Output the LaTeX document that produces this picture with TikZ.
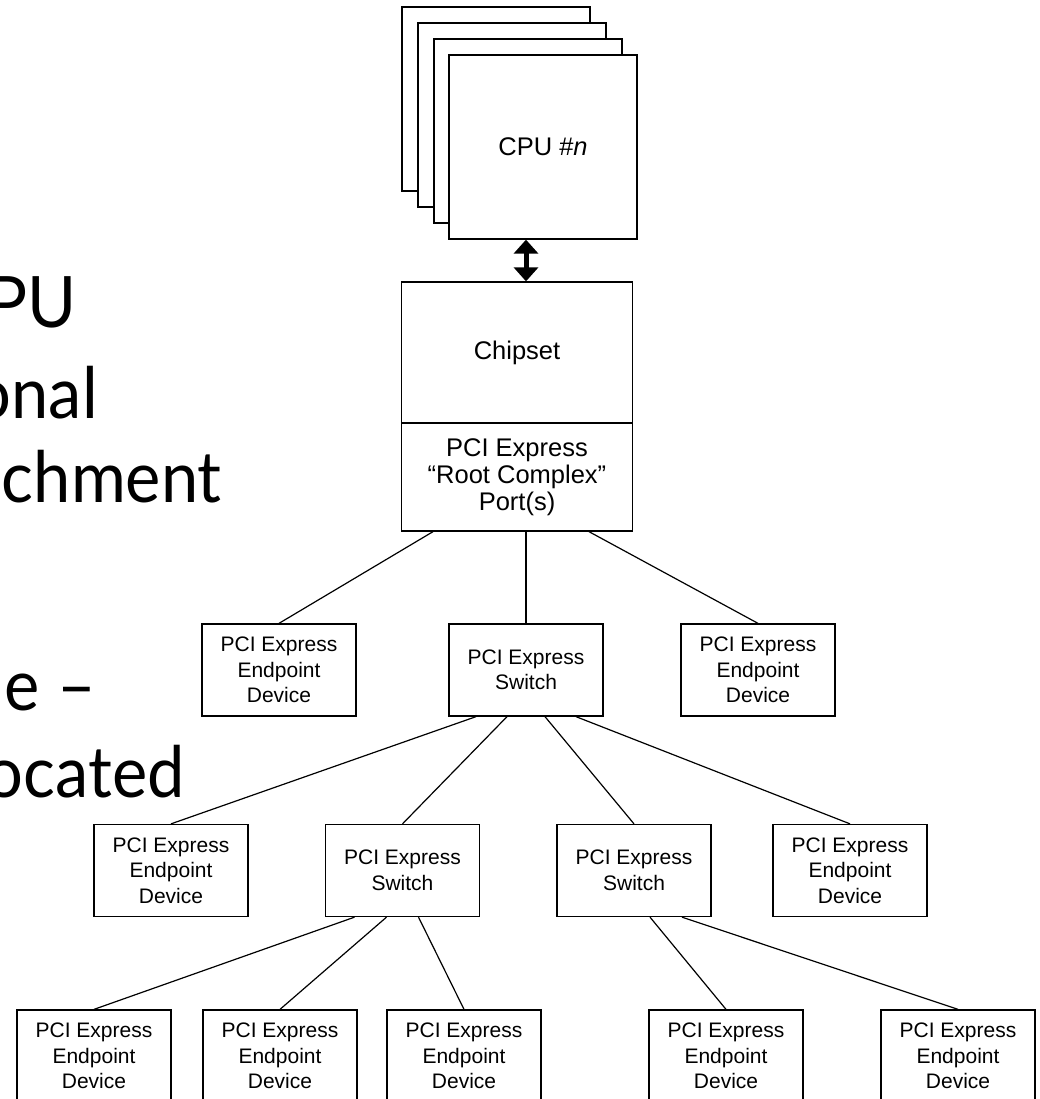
\documentclass[tikz,border=0pt]{standalone}
\usepackage{fontspec}
\setmainfont{Liberation Sans}
\newfontfamily\slidefont[FakeStretch=0.94]{Lato}
\usetikzlibrary{arrows.meta}

\begin{document}
\begin{tikzpicture}[x=1pt,y=-1pt,
  box/.style={draw, line width=1.3pt, fill=white, rectangle, inner sep=0pt, align=center},
  big/.style={box, font=\fontsize{25.5}{27}\selectfont},
  dev/.style={box, minimum width=154pt, minimum height=92pt, font=\fontsize{21}{25.5}\selectfont},
  cpubox/.style={big, minimum width=188pt, minimum height=184pt},
  link/.style={line width=1.2pt},
  bus/.style={line width=5pt, {Triangle[width=24pt,length=14pt]}-{Triangle[width=24pt,length=14pt]}},
  slide/.style={anchor=base east, inner sep=0pt, font=\slidefont\fontsize{71}{85}\selectfont}]

\useasboundingbox (0,0) rectangle (1040,1099);

% bullet text running in from the left margin
\node[slide] (t1) at (77,327) {PU};
\node[slide] (t2) at (98,418) {onal};
\node[slide] (t3) at (222,502) {chment};
\node[slide] (t4) at (96,710) {e –};
\node[slide] (t5) at (185,797) {ocated};

% stack of processors
\node[cpubox] (cpuA) at (496,99) {};
\node[cpubox] (cpuB) at (512,115) {};
\node[cpubox] (cpuC) at (528,131) {};
\node[cpubox] (cpu)  at (543,147) {CPU \#\textit{n}};

% chipset with its root complex ports
\node[big, minimum width=231pt, minimum height=141pt] (chip) at (517,352.5) {Chipset};
\node[big, minimum width=231pt, minimum height=108pt] (rc) at (517,477)
  {PCI Express\\“Root Complex”\\Port(s)};

\draw[bus] ([xshift=-17pt]cpu.south) -- ([xshift=9pt]chip.north);

% first level
\node[dev] (ep1) at (279,670) {PCI Express\\Endpoint\\Device};
\node[dev] (sw1) at (526,670) {PCI Express\\Switch};
\node[dev] (ep2) at (758,670) {PCI Express\\Endpoint\\Device};

% second level
\node[dev] (ep3) at (171,870.5) {PCI Express\\Endpoint\\Device};
\node[dev] (sw2) at (402.5,870.5) {PCI Express\\Switch};
\node[dev] (sw3) at (634,870.5) {PCI Express\\Switch};
\node[dev] (ep4) at (850,870.5) {PCI Express\\Endpoint\\Device};

% third level
\node[dev] (epA) at (94,1056) {PCI Express\\Endpoint\\Device};
\node[dev] (epB) at (280,1056) {PCI Express\\Endpoint\\Device};
\node[dev] (epC) at (464,1056) {PCI Express\\Endpoint\\Device};
\node[dev] (epD) at (726,1056) {PCI Express\\Endpoint\\Device};
\node[dev] (epE) at (958,1056) {PCI Express\\Endpoint\\Device};

% links
\draw[link] ([xshift=-84pt]rc.south) -- (ep1.north);
\draw[link] ([xshift=9pt]rc.south) -- (sw1.north);
\draw[link] ([xshift=72pt]rc.south) -- (ep2.north);

\draw[link] ([xshift=-50pt]sw1.south) -- (ep3.north);
\draw[link] ([xshift=-19pt]sw1.south) -- (sw2.north);
\draw[link] ([xshift=19pt]sw1.south) -- (sw3.north);
\draw[link] ([xshift=50pt]sw1.south) -- (ep4.north);

\draw[link] ([xshift=-48pt]sw2.south) -- (epA.north);
\draw[link] ([xshift=-16pt]sw2.south) -- (epB.north);
\draw[link] ([xshift=16pt]sw2.south) -- (epC.north);

\draw[link] ([xshift=16pt]sw3.south) -- (epD.north);
\draw[link] ([xshift=48pt]sw3.south) -- (epE.north);
\end{tikzpicture}
\end{document}
